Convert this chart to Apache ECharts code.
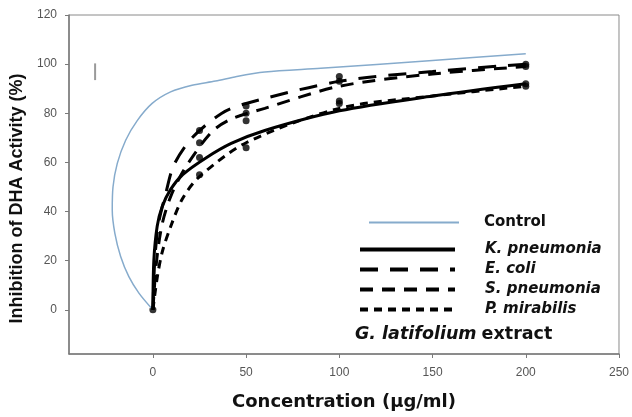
<!DOCTYPE html>
<html>
<head>
<meta charset="utf-8">
<script src="https://cdn.jsdelivr.net/npm/echarts@6/dist/echarts.min.js"></script>
<style>
  html, body { margin: 0; padding: 0; background: #fff; }
  #chart { width: 632px; height: 417px; }
</style>
</head>
<body>
<div id="chart"></div>
<script>
// tick labels
var xTicks = [0, 50, 100, 150, 200, 250];
var yTicks = [0, 20, 40, 60, 80, 100, 120];

// curves: [concentration, inhibition]
var control = [[0, 0], [-7.5, 6.8], [-12.9, 13.5], [-17.3, 21.7], [-20.4, 31.1], [-21.8, 40.6], [-21.4, 50],
  [-19.1, 59.6], [-14.6, 69], [-8.4, 77], [-0.4, 84], [9.5, 88.7], [21, 91.4], [33.6, 93.1], [45, 95],
  [60, 96.8], [90, 98.3], [150, 101.5], [200, 104.2]];
var kPneumonia = [[0, 0], [0.5, 20], [2.3, 34], [5, 42], [9.5, 49], [16, 55], [28, 61.6], [42, 67.7], [60, 73], [100, 81], [150, 87], [200, 92]];
var eColi = [[0, 0], [1, 20], [3, 35], [6.8, 47], [11.3, 59], [21, 70], [37, 80], [50, 84], [100, 93], [150, 97], [200, 100]];
var sPneumonia = [[0, 0], [2, 20], [5, 35], [10, 47], [17.5, 58], [31.7, 72.5], [42.5, 77.8], [60, 82], [100, 91], [150, 96], [200, 99]];
var pMirabilis = [[0, 0], [2.3, 13], [5, 23.5], [9.6, 34], [15.7, 45], [24.7, 54], [50, 68], [100, 82], [150, 87], [200, 91]];

// measured points (dots)
var dots = [[0, 0], [25, 73], [25, 68], [25, 62], [25, 55], [50, 83], [50, 80], [50, 77], [50, 66],
  [100, 95], [100, 93], [100, 85], [100, 84], [200, 100], [200, 99], [200, 92], [200, 91]];

// stray mark at top left
var strayMark = [[-31, 93.5], [-31, 100.3]];

function draw_chart() {
  var dom = document.getElementById('chart');
  var myChart = echarts.init(dom, null, { renderer: 'canvas' });

  var fam = 'Liberation Sans, Arial, sans-serif';
  var wide = 'DejaVu Sans, sans-serif';

  var option = {
    animation: false,
    grid: {
      left: 69, top: 15, right: 11, bottom: 63,
      show: true, borderColor: '#8a8a8a', borderWidth: 1
    },
    title: {
      text: '{i|G. latifolium} {b|extract}',
      left: 355, top: 325, padding: 0,
      textStyle: {
        rich: {
          i: { fontFamily: wide, fontSize: 17.5, fontWeight: 'bold', fontStyle: 'italic', color: '#111' },
          b: { fontFamily: wide, fontSize: 17.5, fontWeight: 'bold', color: '#111' }
        }
      }
    },
    legend: [
      {
        orient: 'vertical', left: 368, top: 215, padding: 0,
        itemWidth: 90, itemHeight: 14,
        itemStyle: { opacity: 0 },
        lineStyle: { width: 2 },
        data: ['Control'],
        textStyle: { fontFamily: wide, fontSize: 15, lineHeight: 14, fontWeight: 'bold', color: '#111', padding: [0, 0, 0, 20] }
      },
      {
        orient: 'vertical', left: 358, top: 242, padding: 0,
        itemWidth: 95, itemHeight: 14, itemGap: 5,
        itemStyle: { opacity: 0 },
        lineStyle: { width: 4 },
        data: ['K. pneumonia', 'E. coli', 'S. pneumonia', 'P. mirabilis'],
        textStyle: { fontFamily: wide, fontSize: 15, lineHeight: 14, fontWeight: 'bold', fontStyle: 'italic', color: '#111', padding: [0, 0, 0, 25] }
      }
    ],
    xAxis: {
      type: 'value', min: -45, max: 250,
      name: 'Concentration (\u03bcg/ml)', nameLocation: 'middle', nameGap: 39,
      nameTextStyle: { fontFamily: wide, fontSize: 18, fontWeight: 'bold', color: '#111' },
      axisLine: { onZero: false, lineStyle: { color: '#7a7a7a', width: 1.5 } },
      axisTick: { customValues: xTicks, length: 4, lineStyle: { color: '#7a7a7a' } },
      axisLabel: { customValues: xTicks, fontFamily: fam, fontSize: 12, color: '#555', margin: 13 },
      splitLine: { show: false }
    },
    yAxis: {
      type: 'value', min: -18, max: 120,
      name: 'Inhibition of DHA Activity (%)', nameLocation: 'middle', nameGap: 36,
      nameTextStyle: { fontFamily: fam, fontSize: 18, fontWeight: 'bold', color: '#111', padding: [0, 28, 0, 0] },
      axisLine: { show: true, onZero: false, lineStyle: { color: '#7a7a7a', width: 1.5 } },
      axisTick: { show: true, customValues: yTicks, length: 4, lineStyle: { color: '#7a7a7a' } },
      axisLabel: { customValues: yTicks, fontFamily: fam, fontSize: 12, color: '#555', margin: 12 },
      splitLine: { show: false }
    },
    series: [
      {
        name: 'Control', type: 'line', data: control, smooth: 0.3, symbol: 'none',
        lineStyle: { color: '#86abcc', width: 1.5 }, itemStyle: { color: '#86abcc' }
      },
      {
        name: 'K. pneumonia', type: 'line', data: kPneumonia, smooth: 0.3, symbol: 'none',
        lineStyle: { color: '#000', width: 3 }, itemStyle: { color: '#000' }
      },
      {
        name: 'E. coli', type: 'line', data: eColi, smooth: 0.3, symbol: 'none',
        lineStyle: { color: '#000', width: 3, type: [18, 12] }, itemStyle: { color: '#000' }
      },
      {
        name: 'S. pneumonia', type: 'line', data: sPneumonia, smooth: 0.3, symbol: 'none',
        lineStyle: { color: '#000', width: 3, type: [13, 9] }, itemStyle: { color: '#000' }
      },
      {
        name: 'P. mirabilis', type: 'line', data: pMirabilis, smooth: 0.3, symbol: 'none',
        lineStyle: { color: '#000', width: 3, type: [8, 6] }, itemStyle: { color: '#000' }
      },
      {
        name: 'points', type: 'scatter', data: dots, symbolSize: 7,
        itemStyle: { color: '#000' }
      },
      {
        name: 'mark', type: 'line', data: strayMark, symbol: 'none',
        lineStyle: { color: '#9a9a9a', width: 2 }
      }
    ]
  };

  myChart.setOption(option);
  window.addEventListener('resize', myChart.resize);
}

draw_chart();
</script>
</body>
</html>
